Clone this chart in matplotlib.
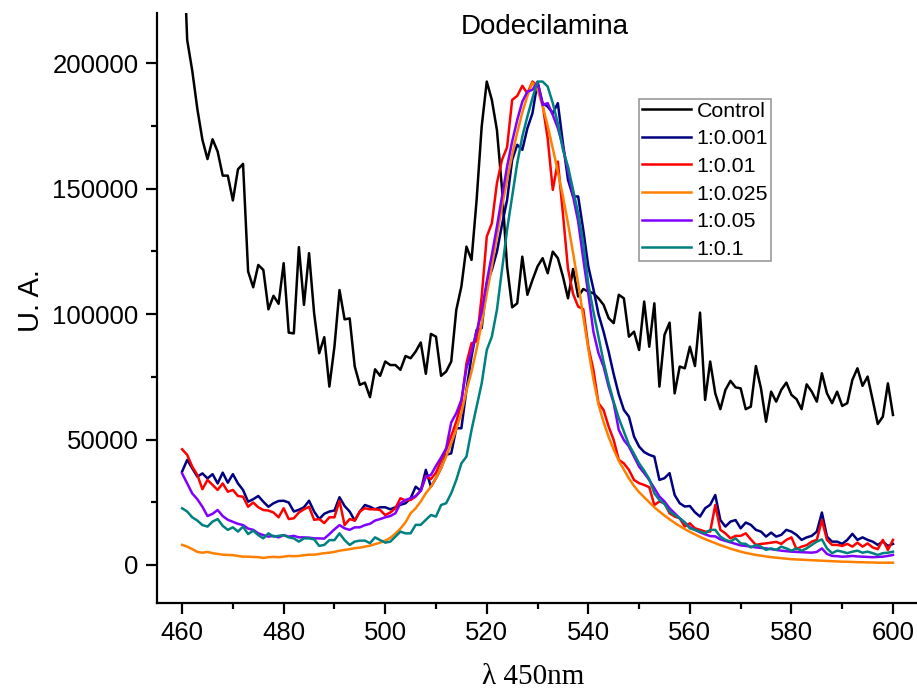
import matplotlib
matplotlib.use("Agg")
import matplotlib.pyplot as plt
from matplotlib.ticker import MultipleLocator, StrMethodFormatter
import numpy as np

wavelength = list(range(460, 601))

control = [262000, 209300, 197000, 181800, 169500, 161800, 169700, 164800, 155200, 155200,
           145300, 157700, 159900, 117000, 110700, 119600, 117600, 101900, 107300, 104100,
           120300, 92600, 92300, 126700, 103700, 124300, 100300, 84400, 90800, 71100,
           87000, 109600, 97900, 98300, 79100, 71800, 72700, 66900, 78000, 75400,
           81100, 79700, 79700, 77800, 83300, 82400, 85100, 88700, 76200, 92100,
           91000, 75400, 77100, 81100, 101700, 111000, 126900, 121600, 145500, 174800,
           192700, 185400, 173400, 150000, 119000, 102700, 104300, 122900, 107700, 113600,
           119000, 122300, 116300, 124900, 122300, 115000, 106300, 118000, 107000, 110000,
           109000, 108300, 106300, 103700, 98400, 96400, 107700, 106300, 91000, 93000,
           85700, 105000, 87000, 104300, 71100, 91700, 96600, 68400, 79100, 78400,
           87000, 79300, 100600, 65800, 81100, 68400, 62100, 69800, 73400, 70800,
           70400, 62100, 63100, 79300, 70400, 57100, 69100, 65100, 69800, 72700,
           67800, 66100, 62100, 72000, 69100, 65100, 76400, 68400, 64500, 69100,
           63400, 64500, 73800, 78400, 71400, 75100, 65800, 56200, 59100, 72400,
           59800]

r_0001 = [37200, 41900, 38500, 35200, 36500, 34500, 36200, 32500, 36800, 32800,
          36200, 32500, 29900, 25200, 26200, 27500, 25200, 23200, 24600, 25500,
          25600, 24900, 21300, 22000, 23000, 25600, 21300, 18300, 20400, 21300,
          21700, 27000, 23500, 21300, 17700, 21300, 23900, 23200, 22200, 23000,
          23000, 22200, 23000, 24000, 24600, 26600, 31200, 29600, 37900, 31200,
          34600, 38600, 43900, 44500, 54500, 54500, 69800, 83100, 93700, 94400,
          112300, 117600, 124900, 135600, 145500, 161500, 167500, 165500, 174100, 180100,
          192500, 184100, 182700, 180100, 184100, 168100, 153500, 146900, 146900, 133600,
          119000, 110000, 100000, 93000, 85000, 76000, 68000, 61800, 59100, 51200,
          47200, 45000, 43900, 43200, 33900, 34600, 36600, 27900, 24600, 23300,
          23500, 21000, 19300, 22600, 24000, 27900, 17900, 15300, 17300, 17900,
          14600, 16900, 16000, 14000, 13300, 11300, 12900, 11300, 12000, 14000,
          13300, 12000, 10000, 11000, 11600, 13300, 20900, 11300, 9300, 9300,
          8400, 10000, 12400, 10000, 11000, 10000, 9300, 8000, 9300, 7600,
          8400]

r_001 = [46100, 43900, 39200, 35900, 30200, 33900, 31900, 29900, 32500, 29200,
         29900, 27500, 27200, 23200, 24900, 23000, 21900, 21700, 20900, 19000,
         22600, 18300, 18600, 20900, 22200, 23200, 18000, 18300, 16700, 19000,
         19000, 25600, 15900, 18300, 17700, 21300, 22600, 22200, 22200, 21900,
         19900, 20900, 22600, 26600, 25700, 25900, 27300, 29600, 35500, 34200,
         36800, 41600, 45900, 51400, 57200, 64500, 80400, 88400, 89100, 107000,
         130900, 136200, 152200, 161500, 166500, 185400, 187000, 191000, 188000, 192700,
         191000, 183400, 170000, 149500, 160800, 140000, 118000, 108000, 103000, 102000,
         87000, 77800, 64500, 61800, 55200, 49800, 41900, 40500, 37900, 33900,
         32600, 31900, 31000, 23900, 25300, 24600, 20600, 19300, 18600, 15300,
         16600, 14600, 14000, 13300, 13300, 23900, 14000, 12600, 10600, 11600,
         11600, 12600, 10200, 8000, 8400, 8600, 8900, 9200, 8400, 10000,
         11000, 6300, 7300, 7900, 9300, 10000, 17900, 10000, 8000, 8000,
         7600, 8400, 7300, 8900, 7300, 8600, 7000, 6300, 10000, 6000,
         10000]

r_0025 = [8000, 7300, 6300, 5200, 4900, 5200, 4700, 4400, 4100, 4000,
          3900, 3600, 3300, 3300, 3200, 3100, 2800, 3100, 3200, 3100,
          3300, 3600, 3500, 3600, 3900, 4100, 4100, 4400, 4700, 4900,
          5200, 5700, 6000, 6300, 6700, 6900, 7300, 7700, 8300, 8900,
          9700, 10800, 12500, 14500, 17000, 20600, 22600, 25300, 28600, 31200,
          34600, 38600, 43200, 48500, 54100, 60500, 69500, 77100, 86000, 96400,
          108100, 119000, 131200, 142900, 153500, 163500, 172400, 180400, 187000, 192300,
          189400, 183000, 175000, 166100, 156800, 146900, 136200, 124300, 112300, 99000,
          86000, 74000, 64000, 57000, 51000, 46000, 41500, 38000, 34500, 31500,
          29000, 27000, 25000, 23000, 21300, 19700, 18200, 16800, 15500, 14300,
          13200, 12200, 11200, 10300, 9500, 8700, 7900, 7200, 6500, 5900,
          5300, 4800, 4400, 4000, 3700, 3400, 3100, 2900, 2700, 2500,
          2300, 2200, 2100, 2000, 1900, 1800, 1700, 1600, 1500, 1400,
          1300, 1300, 1200, 1100, 1100, 1000, 1000, 900, 900, 900,
          900]

r_005 = [36500, 32500, 28500, 26200, 23200, 19500, 20400, 21900, 19500, 18000,
         17200, 16400, 15900, 14500, 14000, 12600, 11900, 11300, 11600, 11000,
         11900, 11300, 11600, 11000, 11000, 10900, 10600, 10600, 10500, 12300,
         14200, 15900, 14600, 14000, 15000, 15000, 15900, 16400, 17700, 18300,
         19000, 19500, 20600, 24600, 25900, 26600, 27500, 29600, 35200, 35900,
         39500, 42800, 46500, 56800, 60500, 65800, 78400, 85100, 93000, 101000,
         113000, 123600, 134900, 146900, 158800, 168800, 177400, 184700, 188700, 189400,
         192500, 183400, 184100, 179400, 174100, 166800, 156800, 146900, 136900, 122000,
         108000, 93000, 84400, 79100, 71100, 64500, 53800, 49800, 47200, 43200,
         39200, 36600, 33900, 30600, 27300, 25300, 22600, 20600, 18600, 16900,
         15000, 14000, 13000, 12200, 11500, 11400, 10200, 9600, 9000, 8400,
         7800, 7600, 7300, 7000, 6800, 6600, 6300, 6000, 5700, 5500,
         5300, 5200, 5100, 5000, 4900, 5200, 6600, 4400, 3600, 3500,
         3300, 3400, 3600, 3400, 3300, 3200, 3100, 3200, 3300, 3600,
         4000]

r_01 = [22600, 21300, 19000, 17700, 15900, 15300, 17300, 18300, 15600, 14000,
        15000, 13300, 15300, 12300, 13700, 11900, 10600, 12600, 11300, 11600,
        11900, 11000, 10600, 9300, 10600, 10600, 10200, 7600, 8000, 9900,
        9900, 12600, 9900, 8000, 9300, 9700, 9700, 8700, 11000, 9900,
        8900, 9300, 11300, 13300, 12600, 12600, 16000, 16000, 18000, 19900,
        19300, 23900, 24600, 28600, 33900, 40500, 43200, 53800, 63100, 72400,
        85700, 91000, 101700, 117600, 133600, 146900, 160200, 170800, 178800, 186100,
        192700, 192700, 190700, 184100, 176100, 165500, 158800, 149500, 140200, 128300,
        112000, 101000, 91000, 81000, 72500, 65000, 58500, 53200, 47900, 44300,
        40500, 37600, 34200, 28600, 25900, 24300, 21300, 19900, 18600, 16900,
        14600, 14000, 13300, 12600, 14000, 14000, 11300, 10000, 9300, 10600,
        8600, 8400, 7000, 8000, 7300, 6000, 6600, 6000, 7300, 6600,
        5700, 6600, 5700, 6600, 8000, 9300, 10200, 6600, 4700, 5700,
        5300, 4700, 5300, 5700, 4900, 5300, 4700, 4000, 4700, 4900,
        5300]

series = [("Control", control, "#000000"),
          ("1:0.001", r_0001, "#000080"),
          ("1:0.01", r_001, "#FF0000"),
          ("1:0.025", r_0025, "#FF8000"),
          ("1:0.05", r_005, "#8000FF"),
          ("1:0.1", r_01, "#008080")]

plt.rcParams['font.family'] = ['Liberation Sans', 'DejaVu Sans']

fig = plt.figure(figsize=(9.17, 6.92), dpi=100)
ax = fig.add_axes([0.1709, 0.1292, 0.8306, 0.8519])

for name, vals, col in series:
    ax.plot(wavelength, vals, color=col, lw=1.8, label=name)

ax.set_xlim(455, 605)
ax.set_ylim(-15000, 220000)

ax.spines['top'].set_visible(False)
ax.spines['right'].set_visible(False)
for s in ('left', 'bottom'):
    ax.spines[s].set_linewidth(1.6)

ax.xaxis.set_major_locator(MultipleLocator(20))
ax.xaxis.set_minor_locator(MultipleLocator(10))
ax.yaxis.set_major_locator(MultipleLocator(50000))
ax.yaxis.set_minor_locator(MultipleLocator(25000))
ax.yaxis.set_major_formatter(StrMethodFormatter('{x:.0f}'))
ax.tick_params(which='major', length=8, width=1.6, labelsize=18.5, pad=5, direction='out')
ax.tick_params(which='minor', length=4, width=1.6, direction='out')

ax.set_ylabel("U. A.", fontsize=21)
ax.yaxis.set_label_coords(-0.147, 0.512)
xl = ax.set_xlabel("λ 450nm", fontsize=21, family=['Liberation Serif', 'DejaVu Serif'])
xl.set_verticalalignment('bottom')
ax.xaxis.set_label_coords(0.494, -(690.5 - 602.6) / 589.5)

ax.text(0.509, 0.964, "Dodecilamina", transform=ax.transAxes, ha='center',
        va='baseline', fontsize=20)

leg = fig.legend(loc='upper left', bbox_to_anchor=(639 / 917, 1 - 99.3 / 692),
                 frameon=True, fancybox=False, fontsize=15.4, handlelength=2.3,
                 handletextpad=0.28, borderpad=0.12, labelspacing=0.4,
                 borderaxespad=0.0)
leg.get_frame().set_edgecolor('#808080')
leg.get_frame().set_linewidth(1.2)

fig.savefig("out.png", dpi=100)
